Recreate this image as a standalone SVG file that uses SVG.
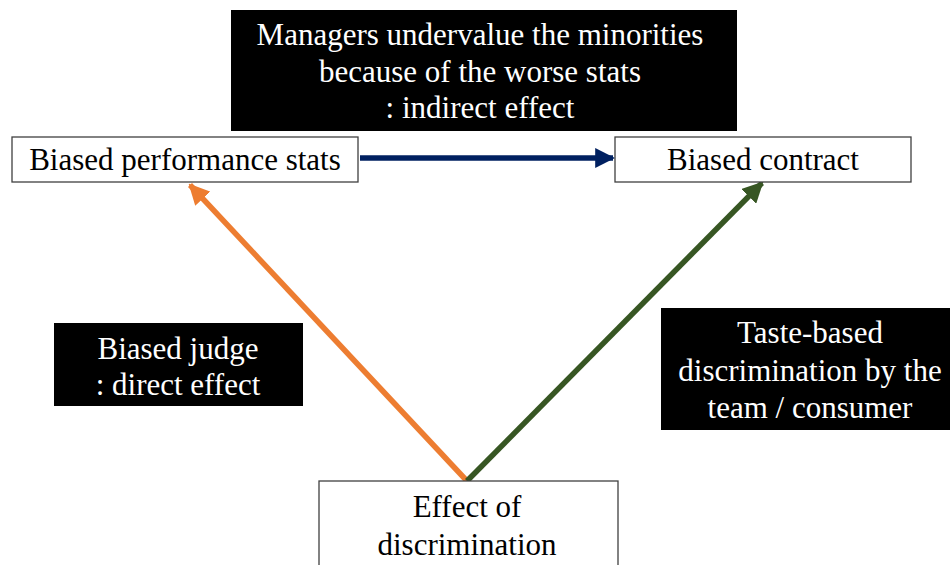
<svg xmlns="http://www.w3.org/2000/svg" width="950" height="565" viewBox="0 0 950 565">
<defs>
<style>
.box{fill:#fff;stroke:#404040;stroke-width:1.3}
.blk{fill:#000}
.t{font-family:"Liberation Serif","Times New Roman",serif;font-size:31px;text-anchor:middle;fill:#000}
.w{fill:#fff}
</style>
<marker id="ab" viewBox="0 0 10 10" refX="9" refY="5" markerWidth="3.6" markerHeight="3.6" orient="auto" markerUnits="strokeWidth"><path d="M0,0 L10,5 L0,10 z" fill="#002060"/></marker>
<marker id="ao" viewBox="0 0 10 10" refX="9" refY="5" markerWidth="3.8" markerHeight="3.8" orient="auto" markerUnits="strokeWidth"><path d="M0,0 L10,5 L0,10 z" fill="#ED7D31"/></marker>
<marker id="ag" viewBox="0 0 10 10" refX="9" refY="5" markerWidth="3.8" markerHeight="3.8" orient="auto" markerUnits="strokeWidth"><path d="M0,0 L10,5 L0,10 z" fill="#375623"/></marker>
</defs>
<g id="connectors">
<line x1="360" y1="158" x2="613" y2="158" stroke="#002060" stroke-width="5.5" marker-end="url(#ab)"/>
<line x1="467" y1="481" x2="190" y2="185" stroke="#ED7D31" stroke-width="5.5" marker-end="url(#ao)"/>
<line x1="467" y1="481" x2="762" y2="183" stroke="#375623" stroke-width="5.5" marker-end="url(#ag)"/>
</g>
<g id="label-indirect">
<rect class="blk" x="231" y="10" width="506" height="121"/>
<text class="t w" x="480" y="45">Managers undervalue the minorities</text>
<text class="t w" x="480" y="82">because of the worse stats</text>
<text class="t w" x="480" y="118">: indirect effect</text>
</g>
<g id="node-stats">
<rect class="box" x="12" y="137" width="346" height="45"/>
<text class="t" x="185" y="170">Biased performance stats</text>
</g>
<g id="node-contract">
<rect class="box" x="615" y="137" width="296" height="45"/>
<text class="t" x="763" y="170">Biased contract</text>
</g>
<g id="label-direct">
<rect class="blk" x="54" y="323" width="249" height="83"/>
<text class="t w" x="178" y="359">Biased judge</text>
<text class="t w" x="178" y="395">: direct effect</text>
</g>
<g id="label-taste">
<rect class="blk" x="661" y="308" width="289" height="122"/>
<text class="t w" x="810" y="343">Taste-based</text>
<text class="t w" x="810" y="381">discrimination by the</text>
<text class="t w" x="810" y="418">team / consumer</text>
</g>
<g id="node-effect">
<rect class="box" x="319" y="481" width="299" height="100"/>
<text class="t" x="467" y="517">Effect of</text>
<text class="t" x="467" y="555">discrimination</text>
</g>
</svg>
